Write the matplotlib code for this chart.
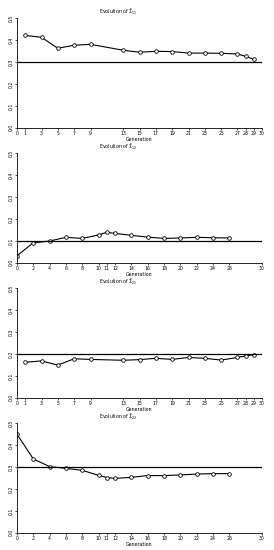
import numpy as np
import matplotlib
matplotlib.use("Agg")
import matplotlib.pyplot as plt

# Generations and estimates for each panel
gen_odd = [1, 3, 5, 7, 9, 13, 15, 17, 19, 21, 23, 25, 27, 28, 29]
gen_even = [0, 2, 4, 6, 8, 10, 11, 12, 14, 16, 18, 20, 22, 24, 26]

sigma11 = [0.422, 0.413, 0.363, 0.377, 0.381, 0.354, 0.345, 0.349, 0.348,
           0.341, 0.341, 0.340, 0.337, 0.326, 0.313]
sigma12 = [0.032, 0.091, 0.099, 0.116, 0.111, 0.127, 0.139, 0.134, 0.125,
           0.117, 0.111, 0.113, 0.116, 0.114, 0.113]
sigma21 = [0.162, 0.168, 0.149, 0.178, 0.175, 0.171, 0.174, 0.180, 0.175,
           0.184, 0.180, 0.172, 0.184, 0.191, 0.197]
sigma22 = [0.450, 0.337, 0.302, 0.294, 0.285, 0.262, 0.252, 0.248, 0.253,
           0.261, 0.261, 0.264, 0.268, 0.270, 0.270]

true_values = [0.3, 0.1, 0.2, 0.3]
titles = [r"Evolution of $\hat{\Sigma}_{11}$", r"Evolution of $\hat{\Sigma}_{12}$",
          r"Evolution of $\hat{\Sigma}_{21}$", r"Evolution of $\hat{\Sigma}_{22}$"]
xticks_odd = [0, 1, 3, 5, 7, 9, 13, 15, 17, 19, 21, 23, 25, 27, 28, 29, 30]
xticks_even = [0, 2, 4, 6, 8, 10, 11, 12, 14, 16, 18, 20, 22, 24, 26, 30]
yticks = [0.0, 0.1, 0.2, 0.3, 0.4, 0.5]

panels = [(gen_odd, sigma11, xticks_odd), (gen_even, sigma12, xticks_even),
          (gen_odd, sigma21, xticks_odd), (gen_even, sigma22, xticks_even)]

W, H = 274, 550
fig = plt.figure(figsize=(W / 100, H / 100), dpi=100)

for i, (x, y, xt) in enumerate(panels):
    top = 18.3 + 135 * i
    bottom = top + 109.4
    ax = fig.add_axes([17 / W, 1 - bottom / H, 245 / W, 109.4 / H])
    ax.plot(x, y, color="black", lw=0.8, marker="o", ms=2.6, mfc="white",
            mec="black", mew=0.6)
    ax.axhline(true_values[i], color="black", lw=0.9)
    ax.set_xlim(0, 30)
    ax.set_ylim(0, 0.5)
    ax.set_xticks(xt)
    ax.set_yticks(yticks)
    ax.set_yticklabels([f"{v:.1f}" for v in yticks], rotation=90, va="center")
    ax.tick_params(labelsize=3.3, length=1.5, width=0.5, pad=1)
    for s in ["top", "right"]:
        ax.spines[s].set_visible(False)
    for s in ["left", "bottom"]:
        ax.spines[s].set_linewidth(0.6)
    ax.set_xlabel("Generation", fontsize=3.4, labelpad=0.3)
    fig.text(118 / W, 1 - (top - 6.5) / H, titles[i], fontsize=3.4,
             ha="center", va="center")

fig.savefig("out.png", dpi=100)
